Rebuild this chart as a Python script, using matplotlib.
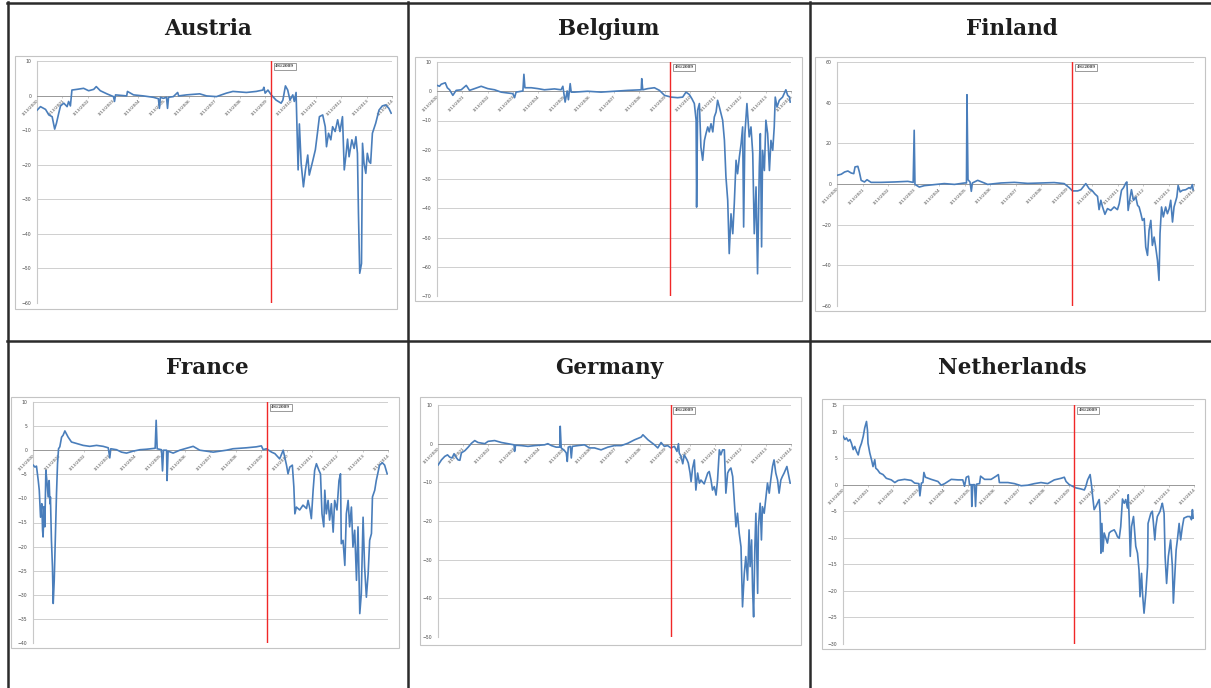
import matplotlib
matplotlib.use("Agg")
import matplotlib.pyplot as plt
from matplotlib.lines import Line2D
from matplotlib.patches import Rectangle

# ---- data: (year, value) ----
austria = [
    (2000.04, -4.2), (2000.17, -3.2), (2000.37, -4.0), (2000.50, -5.6), (2000.63, -6.1),
    (2000.73, -9.7), (2000.80, -8.0), (2000.89, -5.1), (2000.96, -3.0), (2001.09, -2.2),
    (2001.22, -3.2), (2001.28, -1.7), (2001.35, -3.0), (2001.41, 1.6), (2001.61, 1.8),
    (2001.87, 2.1), (2002.07, 1.4), (2002.27, 1.8), (2002.37, 2.6), (2002.53, 1.4),
    (2002.79, 0.5), (2003.05, -0.3), (2003.09, -1.7), (2003.13, 0.2), (2003.57, -0.1),
    (2003.60, 1.2), (2003.84, 0.2), (2004.23, -0.1), (2004.62, -0.5), (2004.82, -0.9),
    (2004.86, -3.7), (2004.90, -0.5), (2005.01, -0.8), (2005.14, -0.5), (2005.18, -3.7),
    (2005.22, -0.5), (2005.41, -0.3), (2005.58, 0.9), (2005.62, -0.1), (2005.93, 0.2),
    (2006.45, 0.5), (2006.72, -0.1), (2007.11, -0.3), (2007.50, 0.7), (2007.76, 1.2),
    (2008.29, 0.9), (2008.68, 1.2), (2008.94, 1.6), (2008.98, 2.4), (2009.03, 0.7),
    (2009.14, 1.6), (2009.27, 0.2), (2009.46, -1.3), (2009.66, -2.2), (2009.73, -1.3),
    (2009.83, 2.8), (2009.92, 1.6), (2010.01, -1.3), (2010.12, 0.2), (2010.18, -1.7),
    (2010.25, 0.9), (2010.29, -10.4), (2010.33, -21.5), (2010.38, -8.2), (2010.45, -19.6),
    (2010.54, -26.4), (2010.62, -21.5), (2010.71, -17.2), (2010.77, -23.0), (2010.90, -19.1),
    (2011.01, -15.7), (2011.10, -10.4), (2011.17, -6.1), (2011.30, -5.6), (2011.40, -9.0),
    (2011.45, -14.8), (2011.53, -10.9), (2011.62, -12.8), (2011.69, -9.0), (2011.79, -10.4),
    (2011.89, -7.0), (2011.98, -10.4), (2012.08, -6.1), (2012.15, -21.5), (2012.21, -17.7),
    (2012.28, -12.6), (2012.34, -17.7), (2012.45, -12.8), (2012.54, -15.3), (2012.61, -11.9),
    (2012.67, -16.7), (2012.71, -34.1), (2012.76, -51.4), (2012.83, -48.6), (2012.87, -13.8),
    (2012.93, -19.6), (2013.00, -22.5), (2013.06, -16.7), (2013.13, -19.1), (2013.19, -19.6),
    (2013.26, -10.9), (2013.39, -8.0), (2013.52, -4.2), (2013.65, -3.0), (2013.78, -2.7),
    (2013.91, -3.7), (2014.00, -5.1),
]

belgium = [
    (2000.04, 2.0), (2000.13, 1.7), (2000.20, 2.4), (2000.36, 2.9), (2000.44, 1.2),
    (2000.53, 0.5), (2000.66, -1.4), (2000.79, 0.3), (2000.99, 0.5), (2001.19, 2.0),
    (2001.32, 0.3), (2001.52, 0.9), (2001.78, 1.7), (2002.04, 0.9), (2002.31, 0.5),
    (2002.57, -0.3), (2002.83, -0.6), (2003.03, -0.8), (2003.10, -2.2), (2003.16, -0.3),
    (2003.43, 0.1), (2003.47, 5.8), (2003.51, 1.2), (2003.76, 1.2), (2004.02, 0.9),
    (2004.28, 0.5), (2004.68, 0.8), (2004.94, 0.5), (2005.01, 1.7), (2005.10, -3.7),
    (2005.18, 0.1), (2005.23, -2.9), (2005.30, 2.6), (2005.34, -0.3), (2005.47, -0.3),
    (2005.99, 0.0), (2006.52, -0.3), (2007.05, 0.0), (2007.58, 0.3), (2008.11, 0.5),
    (2008.13, 4.3), (2008.17, 0.5), (2008.37, 0.9), (2008.63, 1.2), (2008.83, 0.3),
    (2009.03, -1.4), (2009.29, -2.0), (2009.55, -2.2), (2009.75, -2.0), (2009.88, -0.3),
    (2010.01, -1.1), (2010.11, -2.5), (2010.21, -4.2), (2010.28, -9.9), (2010.30, -39.6),
    (2010.34, -6.5), (2010.41, -4.2), (2010.47, -19.1), (2010.54, -23.6), (2010.61, -16.8),
    (2010.67, -14.5), (2010.74, -12.2), (2010.80, -13.9), (2010.87, -11.1), (2010.94, -13.9),
    (2011.00, -8.8), (2011.07, -7.1), (2011.13, -3.1), (2011.20, -5.4), (2011.33, -9.9),
    (2011.40, -16.8), (2011.46, -29.3), (2011.53, -37.3), (2011.59, -55.5), (2011.66, -41.9),
    (2011.73, -48.7), (2011.79, -38.4), (2011.86, -23.6), (2011.92, -28.2), (2011.99, -22.5),
    (2012.06, -17.9), (2012.12, -12.2), (2012.16, -46.4), (2012.21, -14.5), (2012.29, -4.2),
    (2012.38, -15.6), (2012.45, -12.2), (2012.52, -21.3), (2012.58, -48.7), (2012.65, -32.7),
    (2012.71, -62.4), (2012.78, -25.9), (2012.82, -14.5), (2012.87, -53.2), (2012.91, -20.2),
    (2012.98, -27.1), (2013.04, -9.9), (2013.11, -14.5), (2013.18, -27.1), (2013.24, -16.8),
    (2013.31, -20.2), (2013.37, -12.2), (2013.41, -2.0), (2013.48, -5.4), (2013.57, -3.1),
    (2013.70, -2.0), (2013.83, 0.5), (2013.90, -1.4), (2013.97, -2.0), (2014.00, -3.7),
]

finland = [
    (2000.04, 4.3), (2000.20, 4.8), (2000.33, 5.9), (2000.46, 6.4), (2000.59, 5.4),
    (2000.69, 5.1), (2000.74, 8.4), (2000.85, 8.7), (2000.91, 5.9), (2000.98, 1.8),
    (2001.11, 1.0), (2001.21, 2.1), (2001.37, 0.8), (2001.76, 0.8), (2002.29, 1.0),
    (2002.81, 1.3), (2003.02, 0.8), (2003.06, 26.4), (2003.09, -0.2), (2003.26, -1.5),
    (2003.46, -0.8), (2003.85, -0.3), (2004.24, 0.2), (2004.64, -0.2), (2005.03, 0.5),
    (2005.11, 0.5), (2005.13, 43.9), (2005.17, 2.1), (2005.25, 1.0), (2005.30, -3.6),
    (2005.34, 0.5), (2005.55, 1.8), (2005.81, 0.5), (2005.94, -0.2), (2006.46, 0.5),
    (2006.99, 0.8), (2007.51, 0.3), (2008.03, 0.5), (2008.55, 0.7), (2008.94, 0.2),
    (2009.14, -1.8), (2009.27, -3.4), (2009.47, -3.4), (2009.60, -2.8), (2009.79, 0.2),
    (2009.92, -2.3), (2010.05, -3.4), (2010.14, -4.8), (2010.25, -6.1), (2010.31, -12.6),
    (2010.38, -8.0), (2010.44, -11.0), (2010.54, -14.9), (2010.64, -12.1), (2010.77, -13.0),
    (2010.90, -11.3), (2011.03, -12.6), (2011.10, -9.7), (2011.19, -3.1), (2011.27, -1.8),
    (2011.36, 0.5), (2011.40, 1.0), (2011.45, -13.0), (2011.53, -6.4), (2011.58, -2.8),
    (2011.66, -8.0), (2011.75, -6.4), (2011.82, -10.5), (2011.88, -11.3), (2011.95, -14.6),
    (2012.01, -17.9), (2012.08, -17.0), (2012.14, -31.0), (2012.21, -35.1), (2012.27, -22.8),
    (2012.34, -17.9), (2012.40, -30.2), (2012.47, -26.1), (2012.53, -31.0), (2012.60, -37.5),
    (2012.66, -47.4), (2012.70, -24.4), (2012.76, -11.3), (2012.83, -16.2), (2012.92, -11.3),
    (2012.99, -14.6), (2013.06, -12.1), (2013.12, -8.0), (2013.19, -18.7), (2013.25, -11.3),
    (2013.36, -6.4), (2013.41, -0.7), (2013.49, -3.9), (2013.58, -3.1), (2013.71, -2.8),
    (2013.84, -1.8), (2013.90, -2.3), (2013.97, -0.3), (2014.00, -2.8),
]

france = [
    (2000.04, -3.1), (2000.11, -3.5), (2000.17, -3.3), (2000.24, -6.3), (2000.28, -8.3),
    (2000.33, -13.9), (2000.38, -11.1), (2000.41, -16.6), (2000.43, -18.0), (2000.47, -11.7),
    (2000.50, -15.9), (2000.54, -4.2), (2000.59, -6.9), (2000.63, -9.7), (2000.67, -6.3),
    (2000.70, -11.1), (2000.72, -9.7), (2000.76, -18.7), (2000.80, -24.2), (2000.83, -31.8),
    (2000.87, -27.0), (2000.92, -17.3), (2000.96, -9.0), (2001.00, -2.8), (2001.04, 0.3),
    (2001.09, 0.7), (2001.16, 2.7), (2001.22, 3.1), (2001.29, 4.0), (2001.35, 3.4),
    (2001.42, 2.7), (2001.55, 1.7), (2001.75, 1.4), (2002.01, 1.0), (2002.27, 0.8),
    (2002.54, 1.0), (2002.80, 0.8), (2003.00, 0.5), (2003.06, -1.6), (2003.10, 0.3),
    (2003.33, 0.1), (2003.52, -0.4), (2003.72, -0.6), (2003.98, -0.2), (2004.25, 0.1),
    (2004.51, 0.2), (2004.85, 0.4), (2004.89, 6.2), (2004.93, 0.3), (2005.10, 0.1),
    (2005.14, -4.3), (2005.18, 0.0), (2005.30, 0.0), (2005.32, -6.3), (2005.36, -0.2),
    (2005.56, -0.6), (2005.82, 0.0), (2006.35, 0.8), (2006.61, 0.0), (2007.14, -0.4),
    (2007.66, 0.0), (2007.92, 0.3), (2008.45, 0.5), (2008.84, 0.7), (2009.04, 0.9),
    (2009.11, 0.1), (2009.24, 0.3), (2009.44, -0.4), (2009.57, -0.7), (2009.76, -1.8),
    (2009.90, 0.0), (2009.96, -1.4), (2010.03, -3.1), (2010.09, -4.9), (2010.16, -3.5),
    (2010.26, -3.1), (2010.32, -7.6), (2010.36, -13.2), (2010.42, -11.8), (2010.55, -12.4),
    (2010.68, -11.4), (2010.82, -12.1), (2010.88, -10.4), (2010.95, -12.1), (2011.01, -14.2),
    (2011.08, -8.3), (2011.14, -4.2), (2011.21, -2.8), (2011.31, -4.2), (2011.37, -4.9),
    (2011.43, -13.2), (2011.50, -15.9), (2011.54, -8.3), (2011.60, -13.2), (2011.67, -10.4),
    (2011.73, -14.5), (2011.80, -11.1), (2011.87, -17.0), (2011.93, -10.4), (2012.02, -12.4),
    (2012.10, -6.3), (2012.16, -4.9), (2012.19, -19.4), (2012.26, -18.7), (2012.33, -23.9),
    (2012.39, -13.2), (2012.46, -10.4), (2012.52, -15.9), (2012.59, -11.8), (2012.65, -20.1),
    (2012.72, -16.6), (2012.79, -27.0), (2012.85, -15.9), (2012.92, -33.9), (2012.98, -29.8),
    (2013.05, -13.9), (2013.11, -24.2), (2013.18, -30.5), (2013.25, -25.6), (2013.31, -18.7),
    (2013.38, -17.3), (2013.42, -9.7), (2013.51, -8.3), (2013.57, -6.3), (2013.70, -3.1),
    (2013.81, -2.6), (2013.90, -3.1), (2014.00, -4.9),
]

germany = [
    (2000.04, -5.5), (2000.17, -4.2), (2000.30, -3.3), (2000.41, -2.9), (2000.50, -3.5),
    (2000.59, -3.7), (2000.67, -2.6), (2000.77, -3.7), (2000.83, -4.2), (2000.90, -4.3),
    (2000.96, -2.4), (2001.10, -1.8), (2001.23, -0.9), (2001.36, 0.1), (2001.49, 0.8),
    (2001.62, 0.3), (2001.89, 0.0), (2002.02, 0.6), (2002.28, 0.8), (2002.55, 0.3),
    (2002.81, 0.0), (2003.05, -0.3), (2003.07, -2.0), (2003.11, -0.4), (2003.34, -0.5),
    (2003.60, -0.7), (2003.87, -0.5), (2004.26, -0.3), (2004.39, 0.0), (2004.53, -0.5),
    (2004.72, -0.9), (2004.86, -0.9), (2004.88, 4.5), (2004.92, -1.1), (2005.05, -1.8),
    (2005.12, -2.4), (2005.16, -4.6), (2005.20, -0.9), (2005.28, -0.7), (2005.32, -3.7),
    (2005.36, -0.7), (2005.58, -0.5), (2005.84, -0.3), (2006.04, -1.1), (2006.24, -1.1),
    (2006.50, -1.6), (2006.77, -0.9), (2007.03, -0.5), (2007.30, -0.5), (2007.56, 0.1),
    (2007.83, 1.0), (2008.09, 1.7), (2008.16, 2.3), (2008.25, 1.7), (2008.36, 1.0),
    (2008.62, -0.3), (2008.75, -1.1), (2008.88, 0.3), (2009.01, -0.7), (2009.14, -0.5),
    (2009.27, -1.1), (2009.41, -0.7), (2009.51, -2.0), (2009.57, 0.0), (2009.60, -2.4),
    (2009.67, -3.3), (2009.74, -5.2), (2009.80, -2.9), (2009.91, -4.2), (2009.96, -5.0),
    (2010.03, -7.6), (2010.07, -9.8), (2010.13, -6.3), (2010.20, -4.2), (2010.26, -12.0),
    (2010.33, -7.6), (2010.40, -10.2), (2010.46, -9.4), (2010.59, -10.4), (2010.73, -7.6),
    (2010.79, -7.2), (2010.86, -9.4), (2010.92, -12.0), (2010.99, -11.1), (2011.06, -13.3),
    (2011.12, -9.4), (2011.19, -1.6), (2011.25, -2.9), (2011.32, -1.6), (2011.39, -1.6),
    (2011.45, -12.8), (2011.52, -7.6), (2011.58, -6.8), (2011.65, -6.3), (2011.72, -8.5),
    (2011.78, -14.5), (2011.85, -21.5), (2011.91, -18.0), (2011.98, -23.2), (2012.05, -26.7),
    (2012.11, -42.2), (2012.18, -33.6), (2012.24, -29.2), (2012.31, -35.3), (2012.37, -22.3),
    (2012.41, -31.8), (2012.47, -24.9), (2012.51, -37.9), (2012.55, -44.8), (2012.60, -26.7),
    (2012.64, -18.0), (2012.71, -38.7), (2012.74, -21.5), (2012.81, -15.4), (2012.86, -24.9),
    (2012.90, -16.3), (2012.97, -18.0), (2013.03, -14.5), (2013.10, -10.2), (2013.17, -12.8),
    (2013.23, -9.4), (2013.30, -5.9), (2013.36, -4.2), (2013.43, -7.6), (2013.50, -9.4),
    (2013.56, -12.8), (2013.63, -9.4), (2013.69, -8.5), (2013.76, -7.6), (2013.87, -5.9),
    (2013.92, -7.6), (2014.00, -10.2),
]

netherlands = [
    (2000.04, 9.1), (2000.11, 8.5), (2000.17, 8.8), (2000.24, 8.2), (2000.31, 8.5),
    (2000.37, 7.8), (2000.44, 6.6), (2000.50, 7.2), (2000.57, 6.3), (2000.64, 5.6),
    (2000.70, 6.9), (2000.77, 7.8), (2000.84, 9.1), (2000.90, 10.7), (2000.97, 11.9),
    (2001.01, 10.2), (2001.03, 7.8), (2001.10, 6.0), (2001.17, 4.7), (2001.23, 3.4),
    (2001.30, 4.7), (2001.34, 3.1), (2001.41, 2.8), (2001.50, 2.2), (2001.63, 1.9),
    (2001.76, 1.2), (2001.96, 0.9), (2002.10, 0.4), (2002.23, 0.8), (2002.49, 1.0),
    (2002.76, 0.8), (2002.89, 0.3), (2003.06, 0.2), (2003.10, -2.1), (2003.16, 0.3),
    (2003.22, 0.4), (2003.26, 2.3), (2003.32, 1.4), (2003.55, 1.0), (2003.82, 0.6),
    (2003.95, -0.1), (2004.09, 0.2), (2004.35, 1.0), (2004.62, 0.9), (2004.81, 0.9),
    (2004.88, -0.3), (2004.95, 1.4), (2005.04, 1.6), (2005.08, 0.0), (2005.15, 0.0),
    (2005.17, -4.1), (2005.21, 0.0), (2005.28, 0.0), (2005.32, -4.1), (2005.36, 0.1),
    (2005.48, 0.2), (2005.52, 1.6), (2005.68, 1.0), (2005.94, 1.0), (2006.14, 1.6),
    (2006.23, 1.9), (2006.27, 0.4), (2006.61, 0.4), (2006.87, 0.2), (2007.14, -0.2),
    (2007.40, -0.1), (2007.67, 0.2), (2007.93, 0.4), (2008.20, 0.2), (2008.46, 0.9),
    (2008.73, 1.2), (2008.86, 1.4), (2008.93, 0.6), (2009.06, 0.0), (2009.19, -0.3),
    (2009.32, -0.6), (2009.52, -0.8), (2009.66, -1.0), (2009.72, -0.3), (2009.79, 0.9),
    (2009.89, 1.9), (2009.95, -0.3), (2009.99, -2.2), (2010.05, -4.7), (2010.12, -4.1),
    (2010.19, -3.4), (2010.25, -2.8), (2010.29, -5.4), (2010.32, -12.9), (2010.36, -7.3),
    (2010.40, -12.6), (2010.45, -9.1), (2010.52, -10.1), (2010.58, -11.0), (2010.65, -9.1),
    (2010.72, -8.8), (2010.85, -8.5), (2010.92, -9.1), (2010.98, -9.8), (2011.05, -10.1),
    (2011.11, -7.9), (2011.18, -2.7), (2011.25, -3.5), (2011.31, -2.8), (2011.38, -4.4),
    (2011.41, -1.9), (2011.45, -6.6), (2011.49, -13.5), (2011.54, -7.9), (2011.62, -6.0),
    (2011.67, -9.1), (2011.71, -11.6), (2011.78, -12.9), (2011.84, -16.1), (2011.88, -21.1),
    (2011.94, -16.7), (2011.98, -20.5), (2012.04, -24.2), (2012.11, -20.5), (2012.18, -15.4),
    (2012.20, -7.3), (2012.24, -6.6), (2012.31, -5.4), (2012.37, -5.0), (2012.41, -7.0),
    (2012.47, -10.4), (2012.51, -7.9), (2012.57, -6.0), (2012.68, -5.0), (2012.73, -4.1),
    (2012.77, -3.5), (2012.84, -5.4), (2012.88, -13.5), (2012.94, -18.6), (2013.01, -13.5),
    (2013.10, -10.4), (2013.17, -15.4), (2013.21, -22.3), (2013.26, -17.9), (2013.32, -12.3),
    (2013.37, -10.4), (2013.44, -7.3), (2013.50, -10.4), (2013.57, -7.9), (2013.63, -6.3),
    (2013.77, -6.0), (2013.87, -6.0), (2013.93, -6.6), (2013.97, -4.7), (2014.00, -6.3),
]

countries = ["Austria", "Belgium", "Finland", "France", "Germany", "Netherlands"]
series = [austria, belgium, finland, france, germany, netherlands]
y_ranges = [(-60, 10, 10), (-70, 10, 10), (-60, 60, 20),
            (-40, 10, 5), (-50, 10, 10), (-30, 15, 5)]
years = list(range(2000, 2015))
tick_offset = 12 / 365.0          # ticks sit on 13 January
event_x = 2009.26                 # 4/6/2009
event_label = "4/6/2009"

# ---- layout (pixels of the 1211x688 picture) ----
W, H = 1211, 688
plot_boxes = [(37, 61, 392, 303), (437, 62, 791, 296), (837, 62, 1194, 306),
              (33, 402, 388, 643), (438, 405, 791, 637), (843, 405, 1194, 644)]
frame_boxes = [(15, 56, 397, 309), (415, 57, 802, 301), (815, 57, 1205, 311),
               (11, 397, 399, 648), (420, 397, 801, 645), (822, 399, 1205, 649)]
title_pos = [(208, 35), (609, 35), (1012, 35), (207, 374), (609, 374), (1012, 374)]

BLUE = "#4a7ebb"
RED = "#f02828"
GRID = "#cfcfcf"


def fx(x):
    return x / W


def fy(y):
    return 1 - y / H


fig = plt.figure(figsize=(W / 100, H / 100), dpi=100)
fig.patch.set_facecolor("white")

# table rules
for x in (8, 408, 810):
    fig.add_artist(Line2D([fx(x), fx(x)], [0, fy(2)], color="#2b2b2b", lw=1.8))
for y in (3, 341):
    fig.add_artist(Line2D([fx(7), 1], [fy(y), fy(y)], color="#2b2b2b", lw=1.8))

for i, name in enumerate(countries):
    fx0, fy0, fx1, fy1 = frame_boxes[i]
    fig.add_artist(Rectangle((fx(fx0), fy(fy1)), fx(fx1) - fx(fx0), fy(fy0) - fy(fy1),
                             transform=fig.transFigure, fill=False,
                             edgecolor="#c4c4c4", lw=0.8))
    tx, ty = title_pos[i]
    fig.text(fx(tx), fy(ty), name, ha="center", va="baseline", fontsize=15.5,
             fontweight="bold", family="DejaVu Serif", color="#1e1e1e")

    x0, y0, x1, y1 = plot_boxes[i]
    ax = fig.add_axes([fx(x0), fy(y1), fx(x1) - fx(x0), fy(y0) - fy(y1)])
    # axis line crosses at zero, set before the ticks (it resets them)
    ax.spines["bottom"].set_position(("data", 0))
    ax.spines["bottom"].set_color("#9a9a9a")
    ax.spines["bottom"].set_linewidth(0.7)
    ax.spines["left"].set_color("#c8c8c8")
    ax.spines["left"].set_linewidth(0.8)
    ax.spines["top"].set_visible(False)
    ax.spines["right"].set_visible(False)
    ax.set_facecolor("none")

    t = [p[0] for p in series[i]]
    v = [p[1] for p in series[i]]
    ax.plot(t, v, color=BLUE, lw=1.2, solid_joinstyle="round", zorder=3)
    ax.axvline(event_x, color=RED, lw=1.0, zorder=4)
    ax.annotate(event_label, xy=(event_x, 1), xycoords=("data", "axes fraction"),
                xytext=(3, -2.5), textcoords="offset points", ha="left", va="top",
                fontsize=2.8, family="DejaVu Serif", fontweight="bold", color="#333333",
                bbox=dict(boxstyle="square,pad=0.35", fc="white", ec="#8a8a8a", lw=0.6),
                zorder=5)

    lo, hi, step = y_ranges[i]
    ax.set_ylim(lo, hi)
    ax.set_yticks(list(range(lo, hi + 1, step)))
    ax.yaxis.grid(True, color=GRID, lw=0.7)
    ax.set_axisbelow(True)
    ax.set_xlim(years[0] + tick_offset, years[-1] + 0.03)
    ax.set_xticks([yr + tick_offset for yr in years])
    ax.set_xticklabels([f"1/13/{yr}" for yr in years], rotation=45, ha="right",
                       va="top", rotation_mode="anchor", fontsize=3.1, color="#444444")
    ax.tick_params(axis="y", labelsize=3.3, labelcolor="#4a4a4a", length=0, pad=4)
    ax.tick_params(axis="x", length=1.2, width=0.4, color="#a0a0a0", pad=1)

fig.savefig("out.png", dpi=100, facecolor="white")
